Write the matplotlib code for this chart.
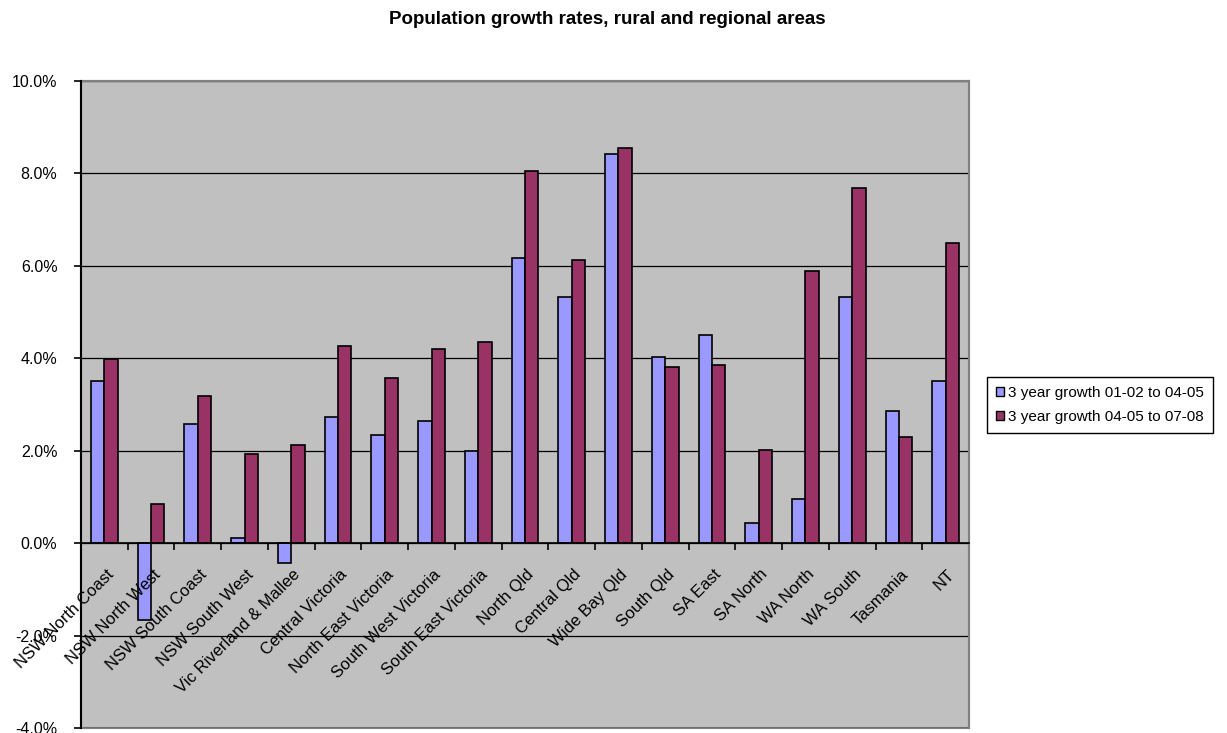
import numpy as np
import matplotlib
matplotlib.use("Agg")
import matplotlib.pyplot as plt
from matplotlib.patches import Rectangle
from matplotlib.ticker import FuncFormatter, FixedLocator

plt.rcParams['font.family'] = ['Liberation Sans', 'DejaVu Sans']

regions = [
    "NSW North Coast", "NSW North West", "NSW South Coast", "NSW South West",
    "Vic Riverland & Mallee", "Central Victoria", "North East Victoria",
    "South West Victoria", "South East Victoria", "North Qld", "Central Qld",
    "Wide Bay Qld", "South Qld", "SA East", "SA North", "WA North", "WA South",
    "Tasmania", "NT",
]
growth_01_04 = [3.51, -1.66, 2.58, 0.12, -0.42, 2.72, 2.35, 2.64, 2.00, 6.17,
                5.32, 8.43, 4.03, 4.51, 0.44, 0.96, 5.32, 2.86, 3.51]
growth_04_07 = [3.98, 0.84, 3.19, 1.93, 2.12, 4.27, 3.58, 4.21, 4.35, 8.05,
                6.12, 8.55, 3.82, 3.85, 2.02, 5.88, 7.68, 2.30, 6.49]
series_labels = ["3 year growth 01-02 to 04-05", "3 year growth 04-05 to 07-08"]
y_ticks = [-4, -2, 0, 2, 4, 6, 8, 10]

W, H = 1227, 733
fig = plt.figure(figsize=(W / 100, H / 100), dpi=100)
ax = fig.add_axes([81 / W, 1 - 728 / H, (969 - 81) / W, (728 - 81) / H])
ax.set_facecolor("#C0C0C0")

x = np.arange(len(regions))
w = 1 / 3.5
b1 = ax.bar(x - w / 2, growth_01_04, width=w, color="#9999FF", edgecolor="black",
            linewidth=1.2, label=series_labels[0], zorder=3)
b2 = ax.bar(x + w / 2, growth_04_07, width=w, color="#993366", edgecolor="black",
            linewidth=1.2, label=series_labels[1], zorder=3)

ax.set_xlim(-0.5, len(regions) - 0.5)
ax.set_ylim(-4, 10)
ax.yaxis.set_major_locator(FixedLocator(y_ticks))
ax.yaxis.set_major_formatter(FuncFormatter(lambda v, p: f"{v:.1f}%"))
ax.grid(axis="y", color="black", linewidth=0.9, zorder=1)
ax.tick_params(axis="y", direction="out", length=5, width=1.2, labelsize=11.5, pad=12)

# category axis runs along the zero line, with ticks between categories
ax.spines["bottom"].set_position(("data", 0))
ax.spines["bottom"].set_color("black")
ax.spines["bottom"].set_linewidth(1.2)
ax.spines["bottom"].set_zorder(4)
ax.set_xticks(np.arange(-0.5, len(regions), 1.0))
ax.set_xticklabels([])
ax.tick_params(axis="x", direction="out", length=5, width=1.2, color="black")
ax.spines["left"].set_color("black")
ax.spines["left"].set_linewidth(1.5)
ax.spines["left"].set_zorder(4)
for s in ("top", "right"):
    ax.spines[s].set_color("#808080")
    ax.spines[s].set_linewidth(1.5)
ax.add_patch(Rectangle((0, 0), 1, 1, transform=ax.transAxes, fill=False,
                       edgecolor="#808080", linewidth=1.5, zorder=0.5, clip_on=False))

for xi, name in zip(x, regions):
    ax.annotate(name, xy=(xi, 0), xytext=(1, -17), textcoords="offset points",
                rotation=45, rotation_mode="anchor", ha="right", va="top",
                fontsize=12, zorder=5)

fig.text(607 / W, 1 - 19 / H, "Population growth rates, rural and regional areas",
         ha="center", va="center", fontsize=13.5, fontweight="bold")

leg = fig.legend(handles=[b1, b2], labels=series_labels, loc="center",
                 bbox_to_anchor=(1100 / W, 1 - 405 / H), fontsize=11,
                 frameon=True, fancybox=False, edgecolor="black", framealpha=1,
                 handlelength=0.5, handleheight=0.5, handletextpad=0.3,
                 borderpad=0.6, labelspacing=0.65, borderaxespad=0)
leg.get_frame().set_linewidth(1.0)
for hnd in leg.legend_handles:
    hnd.set_linewidth(1.0)

fig.savefig("out.png", dpi=100)
